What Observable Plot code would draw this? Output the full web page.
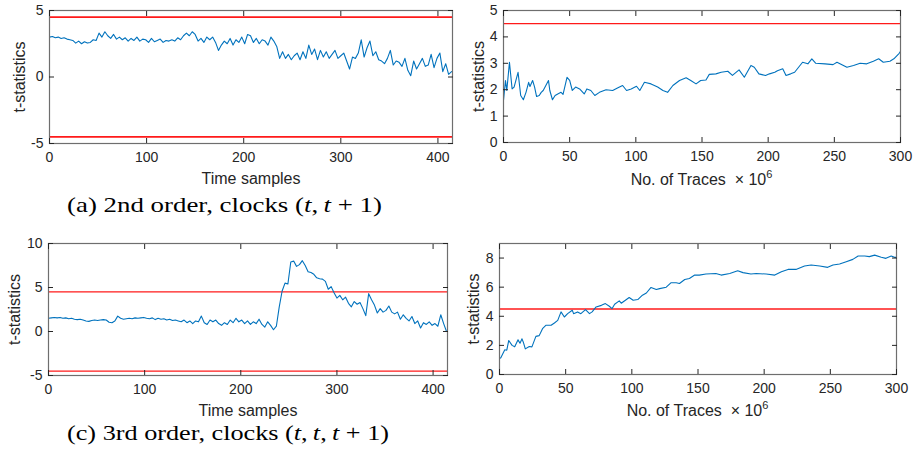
<!DOCTYPE html>
<html><head><meta charset="utf-8">
<script src="https://cdn.jsdelivr.net/npm/d3@7"></script>
<script src="https://cdn.jsdelivr.net/npm/@observablehq/plot@0.6"></script>
<style>
body{margin:0;background:#fff;width:914px;height:458px;position:relative;overflow:hidden;font-family:"Liberation Sans",Arial,sans-serif}
.panel{position:absolute}
.panel svg{overflow:visible}
g[aria-label="x-axis label"], g[aria-label="y-axis label"]{font-size:16px}
.cap{position:absolute;font-family:"Liberation Serif",serif;font-size:21px;line-height:21px;color:#000;white-space:nowrap}
.cap span{display:inline-block;transform-origin:0 50%}
.xl{position:absolute;font-size:16px;line-height:16px;color:#262626;white-space:nowrap;transform:translateX(-50%)}
.xl sup{font-size:11px;vertical-align:7px;line-height:0}
</style></head><body>
<script>
// ---- data ----
const aStep = 3; // time sample spacing of the listed values
const aVals = [3.0,3.05,2.95,3.0,2.9,2.95,2.85,2.8,2.75,2.55,
2.7,2.5,2.65,2.55,2.6,2.8,2.75,3.3,3.0,3.4,
3.1,2.9,3.2,2.85,3.0,2.8,2.95,2.7,2.9,2.75,
3.0,2.7,2.85,2.8,2.6,2.9,2.65,2.75,2.85,2.6,
2.75,2.7,2.8,2.7,2.95,2.8,3.1,3.3,3.1,3.4,
3.2,2.7,2.9,2.6,3.0,2.8,3.0,2.6,2.0,2.4,
2.7,2.5,2.9,2.4,2.8,2.6,3.0,2.5,3.2,3.1,
2.6,2.9,2.5,2.8,2.7,2.4,3.0,2.7,2.3,1.4,
1.9,1.4,1.7,1.3,1.6,1.8,1.3,1.9,1.4,2.4,
1.7,2.1,1.3,2.0,1.5,1.9,1.4,1.7,2.0,1.4,
1.6,1.8,1.2,0.6,1.5,1.4,1.8,2.8,1.5,2.2,
2.7,1.6,1.9,1.3,1.2,1.0,1.4,2.0,0.9,1.2,
1.1,0.8,1.4,0.5,0.1,1.2,0.6,1.0,1.4,0.8,
0.9,1.7,0.7,1.4,1.8,0.4,1.0,0.2,0.4];

const bX = [0,1.5,2.5,4.5,6.5,8,11,13,15,17,19,20,22,23.5,25,27,28.5,30,32,34,35,37,39,41,43.5,45,48,50,52,54.5,57.5,61,63,66,69,72.5,77.5,82.5,86.5,90,93,96.5,100.5,103,106.5,111.5,116.5,120.5,124,128,133,138,141.5,145.5,149,153,155.5,160.5,164.5,169.5,173,178,182,187,189.5,193,198,201,205,207,211,213.5,217,220,226,230,233,236,243,249,252,259.5,264.5,269.5,274.5,279.5,283.5,287,292,295,299,300];
const bY = [1.6,2.35,1.97,3.04,2.03,2.1,2.66,1.78,1.62,1.9,2.28,2.12,2.35,2.1,1.74,1.78,1.9,1.97,2.16,2.35,1.97,1.62,1.78,1.84,1.9,1.82,2.47,2.35,1.97,2.1,2.03,1.84,2.03,1.97,1.78,1.9,2.0,1.97,2.07,2.16,1.97,2.03,2.13,1.97,2.28,2.22,2.1,1.97,1.9,2.16,2.35,2.45,2.35,2.22,2.35,2.37,2.58,2.6,2.66,2.7,2.54,2.75,2.47,2.92,2.85,2.6,2.54,2.6,2.66,2.72,2.79,2.54,2.6,2.66,3.04,2.98,3.17,3.0,2.98,2.95,3.04,2.85,2.92,3.0,2.98,3.08,3.17,3.04,3.08,3.17,3.38,3.45];

const cStep = 3;
const cVals = [1.5,1.55,1.6,1.55,1.6,1.5,1.55,1.45,1.5,1.4,
1.35,1.4,1.3,1.2,1.15,1.25,1.3,1.25,1.3,1.35,
1.3,1.05,1.0,1.2,1.75,1.5,1.4,1.45,1.5,1.45,
1.55,1.5,1.55,1.6,1.5,1.45,1.55,1.35,1.5,1.4,
1.45,1.3,1.4,1.25,1.3,1.2,1.1,1.3,1.0,1.2,
0.9,1.2,1.1,1.75,1.0,0.8,1.3,1.1,1.3,0.9,
0.7,1.0,0.8,1.3,1.0,1.5,1.1,1.3,0.9,1.2,
0.8,1.1,0.9,1.4,0.8,0.5,1.1,0.7,0.2,0.6,
2.8,4.6,5.5,5.4,7.9,8.0,7.4,7.6,8.05,7.5,
6.8,6.7,6.5,6.1,6.0,5.95,5.7,4.8,5.1,4.4,
3.8,4.1,3.6,3.9,3.2,2.8,3.4,3.1,3.3,2.6,
1.8,4.3,3.6,3.0,2.1,2.6,2.2,2.4,2.9,2.2,
2.0,2.2,1.4,1.9,1.5,1.2,1.7,0.9,1.2,0.4,
1.0,0.8,1.1,0.7,0.9,0.6,1.9,0.9,0.0];

const dX = [0,1,4,5.5,7,9.5,11.5,14,15.5,17,18,19.5,22.5,24.5,27.5,30,32.5,35,39,41.5,44,46.5,49,51.5,55,56,59,61.5,65,68,70,73,77,80,83,85,87,90.5,92,98,101,104.5,108,111,114.5,118.5,121,126,129.5,133.5,136,140,143.5,147.5,151,156,163.5,167.5,174,180,184,190,194,201.5,208,213,218,224,230.5,235.5,242,248,252,257,262,267,271,276,279.5,283.5,288.5,292,296,298.5,300];
const dY = [1.1,1.15,1.7,1.67,2.34,2.0,1.9,2.38,2.15,2.45,2.22,1.76,1.92,1.9,2.62,2.67,3.15,3.38,3.38,3.54,3.72,4.3,3.95,4.18,4.41,4.18,4.3,4.18,4.46,4.18,4.3,4.64,4.75,4.87,4.69,4.52,4.83,5.06,4.9,5.29,5.1,5.15,5.45,5.6,5.98,5.84,5.9,6.0,6.3,6.3,6.25,6.53,6.6,6.83,6.83,6.9,6.94,6.83,6.94,7.13,7.0,6.9,6.94,6.9,6.83,7.06,7.22,7.22,7.45,7.52,7.45,7.36,7.52,7.59,7.75,7.91,8.14,8.14,8.1,8.2,8.05,7.98,8.14,8.05,8.05];

const timeTicks = [0,100,200,300,400];
const traceTicks = [0,50,100,150,200,250,300];
const aYTicks = [-5,0,5];
const bYTicks = [0,1,2,3,4,5];
const cYTicks = [-5,0,5,10];
const dYTicks = [0,2,4,6,8];
const bothThresholds = [-4.5, 4.5];
const upperThreshold = [4.5];

const captions = [
  {left:67, top:195, width:315, html:"(a) 2nd order, clocks (<i>t</i>,&thinsp;<i>t</i>&nbsp;+&nbsp;1)"},
  {left:67, top:423, width:322, html:"(c) 3rd order, clocks (<i>t</i>,&thinsp;<i>t</i>,&thinsp;<i>t</i>&nbsp;+&nbsp;1)"}
];

// ---- drawing ----
const fmt = d => String(d);
function panel(o) {
  const div = document.createElement("div");
  div.className = "panel";
  div.style.left = o.left + "px";
  div.style.top = o.top + "px";
  const svg = Plot.plot({
    width: o.width, height: o.height,
    marginLeft: o.ml, marginRight: o.mr, marginTop: o.mt, marginBottom: o.mb,
    style: {fontFamily: "'Liberation Sans', Arial, sans-serif", fontSize: "14px", color: "#262626", background: "transparent"},
    x: {domain: o.xDomain},
    y: {domain: o.yDomain},
    marks: [
      Plot.ruleY(o.thresholds, {stroke: "#ff1a1a", strokeWidth: o.thrWidth}),
      Plot.lineY(o.ys, {x: o.xs, stroke: "#0072BD", strokeWidth: 1.1}),
      Plot.frame({stroke: "#6e6e6e", strokeWidth: 1.2}),
      Plot.axisX(o.xTicks, {anchor: "bottom", tickSize: -5, tickPadding: 14, tickFormat: fmt,
        label: o.xLabel, labelAnchor: "center", labelArrow: "none", labelOffset: 40}),
      Plot.axisX(o.xTicks, {anchor: "top", tickSize: -5, tickFormat: () => "", label: null}),
      Plot.axisY(o.yTicks, {anchor: "left", tickSize: -5, tickPadding: 11, tickFormat: fmt,
        label: "t-statistics", labelAnchor: "center", labelArrow: "none", labelOffset: o.ylo}),
      Plot.axisY(o.yTicks, {anchor: "right", tickSize: -5, tickFormat: () => "", label: null})
    ]
  });
  div.appendChild(svg);
  document.body.appendChild(div);
}

const aXs = aVals.map((_, i) => i * aStep);
const cXs = cVals.map((_, i) => i * cStep);

panel({left:0, top:0, width:460, height:180, ml:49, mr:8, mt:10, mb:37,
  xDomain:[0,415], yDomain:[-5,5], xTicks:timeTicks, yTicks:aYTicks, xLabel:"Time samples",
  xs:aXs, ys:aVals, thresholds:bothThresholds, thrWidth:1.6, ylo:36});
panel({left:454, top:0, width:456, height:180, ml:49, mr:10, mt:10, mb:38,
  xDomain:[0,300], yDomain:[0,5], xTicks:traceTicks, yTicks:bYTicks, xLabel:null,
  xs:bX, ys:bY, thresholds:upperThreshold, thrWidth:1.2, ylo:31});
panel({left:0, top:228, width:455, height:180, ml:48, mr:8, mt:15, mb:33,
  xDomain:[0,415], yDomain:[-5,10], xTicks:timeTicks, yTicks:cYTicks, xLabel:"Time samples",
  xs:cXs, ys:cVals, thresholds:bothThresholds, thrWidth:1.2, ylo:40});
panel({left:454, top:228, width:452, height:180, ml:45, mr:10, mt:15, mb:34,
  xDomain:[0,300], yDomain:[0,9], xTicks:traceTicks, yTicks:dYTicks, xLabel:null,
  xs:dX, ys:dY, thresholds:upperThreshold, thrWidth:1.6, ylo:32});

for (const [cx, top] of [[701.5, 171.5], [697.5, 402.5]]) {
  const d = document.createElement("div");
  d.className = "xl";
  d.style.left = cx + "px";
  d.style.top = top + "px";
  d.innerHTML = "No. of Traces &nbsp;× 10<sup>6</sup>";
  document.body.appendChild(d);
}
for (const c of captions) {
  const d = document.createElement("div");
  d.className = "cap";
  d.style.left = c.left + "px";
  d.style.top = c.top + "px";
  const s = document.createElement("span");
  s.innerHTML = c.html;
  d.appendChild(s);
  document.body.appendChild(d);
  const w = s.getBoundingClientRect().width;
  s.style.transform = `scaleX(${c.width / w})`;
}
</script>
</body></html>
